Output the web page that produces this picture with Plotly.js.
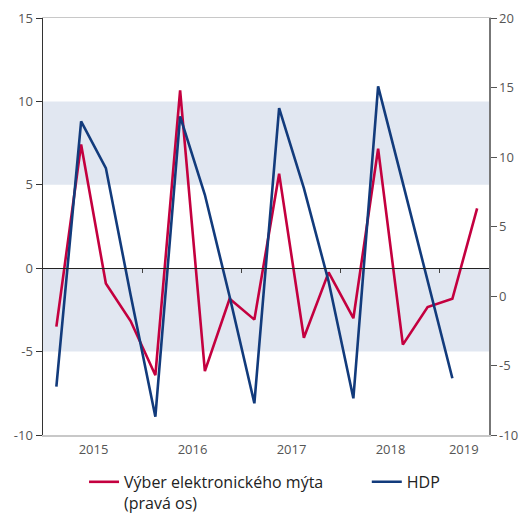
<!DOCTYPE html>
<html>
<head>
<meta charset="utf-8">
<script src="https://cdn.plot.ly/plotly-3.0.1.min.js"></script>
<style>
  html, body { margin: 0; padding: 0; background: #fff; }
  #chart { width: 520px; height: 516px; }
</style>
</head>
<body>
<div id="chart"></div>
<script>
// quarterly points, Q1 2015 .. Q2 2019 (x = middle of the quarter)
const quarters = [
  "2015Q1", "2015Q2", "2015Q3", "2015Q4",
  "2016Q1", "2016Q2", "2016Q3", "2016Q4",
  "2017Q1", "2017Q2", "2017Q3", "2017Q4",
  "2018Q1", "2018Q2", "2018Q3", "2018Q4",
  "2019Q1", "2019Q2"
];

// Výber elektronického mýta (right axis)
const myto = [-2.2, 10.9, 0.9, -1.8, -5.7, 14.8, -5.4, -0.2, -1.7, 8.8, -3.0, 1.7, -1.6, 10.6, -3.5, -0.8, -0.2, 6.3];

// HDP (left axis)
const hdp = [-7.1, 8.8, 6.0, -1.6, -8.9, 9.1, 4.4, -1.7, -8.1, 9.6, 4.8, -0.8, -7.8, 10.9, 5.1, -0.8, -6.6, null];

const yearLabels = ["2015", "2016", "2017", "2018", "2019"];
const yearLabelPos = [2015.5, 2016.5, 2017.5, 2018.5, 2019.24];
const yearBreaks = [2016, 2017, 2018, 2019];

const leftTicks = [-10, -5, 0, 5, 10, 15];
const rightTicks = [-10, -5, 0, 5, 10, 15, 20];

// shaded bands (left axis)
const bands = [[5, 10], [-5, 0]];

const RED = "#c4003f";
const BLUE = "#123b7c";
const tickFont = { family: "Open Sans, Noto Sans, sans-serif", size: 13, color: "#555" };
const legendFont = { size: 16, color: "#222" };

function quarterToX(q) {
  const year = parseInt(q.slice(0, 4));
  const n = parseInt(q.slice(5));
  return year + (n - 0.5) / 4;
}
const xs = quarters.map(quarterToX);
const hyphen = v => String(v).replace("−", "-");

const traces = [
  {
    x: xs, y: myto,
    name: "Výber elektronického mýta<br>(pravá os)",
    type: "scatter", mode: "lines",
    line: { color: RED, width: 2.6 },
    xaxis: "x", yaxis: "y2", legend: "legend"
  },
  {
    x: xs, y: hdp,
    name: "HDP",
    type: "scatter", mode: "lines",
    line: { color: BLUE, width: 2.6 },
    xaxis: "x2", yaxis: "y", legend: "legend2"
  }
];

const xRange = [2014.99, 2019.495];

const layout = {
  width: 520, height: 516,
  margin: { l: 43, r: 31, t: 18, b: 81 },
  paper_bgcolor: "#fff", plot_bgcolor: "rgba(0,0,0,0)",
  font: { family: "Open Sans, Noto Sans, sans-serif", color: "#333" },
  showlegend: true,
  legend: {
    x: 0.092, y: 0.099, xref: "paper", yref: "container",
    xanchor: "left", yanchor: "top", font: legendFont, valign: "top"
  },
  legend2: {
    x: 0.726, y: 0.099, xref: "paper", yref: "container",
    xanchor: "left", yanchor: "top", font: legendFont, valign: "top"
  },
  xaxis: {
    range: xRange, showgrid: false, zeroline: false,
    showline: true, linecolor: "#c8c8c8", linewidth: 1.5, mirror: true,
    tickmode: "array", tickvals: yearLabelPos, ticktext: yearLabels,
    ticks: "", tickfont: tickFont, ticklabelstandoff: 2
  },
  xaxis2: {
    range: xRange, overlaying: "x", anchor: "free", position: 0.4,
    showgrid: false, zeroline: false,
    showline: true, linecolor: "#222", linewidth: 1,
    tickmode: "array", tickvals: yearBreaks,
    ticks: "outside", ticklen: 4, tickcolor: "#444", tickwidth: 1,
    showticklabels: false
  },
  yaxis: {
    range: [-10, 15], showgrid: false, zeroline: false,
    tickmode: "array", tickvals: leftTicks, ticktext: leftTicks.map(hyphen),
    showline: true, linecolor: "#333", linewidth: 1.5,
    ticks: "outside", ticklen: 6, tickcolor: "#333",
    tickfont: tickFont
  },
  yaxis2: {
    range: [-10, 20], overlaying: "y", side: "right",
    tickmode: "array", tickvals: rightTicks, ticktext: rightTicks.map(hyphen),
    showgrid: false, zeroline: false,
    showline: true, linecolor: "#777", linewidth: 1.5,
    ticks: "outside", ticklen: 6, tickcolor: "#555",
    tickfont: tickFont
  },
  shapes: bands.map(b => ({
    type: "rect", xref: "paper", yref: "y",
    x0: 0, x1: 1, y0: b[0], y1: b[1],
    fillcolor: "#e1e7f1", line: { width: 0 }, layer: "below"
  }))
};

Plotly.newPlot("chart", traces, layout, { displayModeBar: false, staticPlot: true });
</script>
</body>
</html>
